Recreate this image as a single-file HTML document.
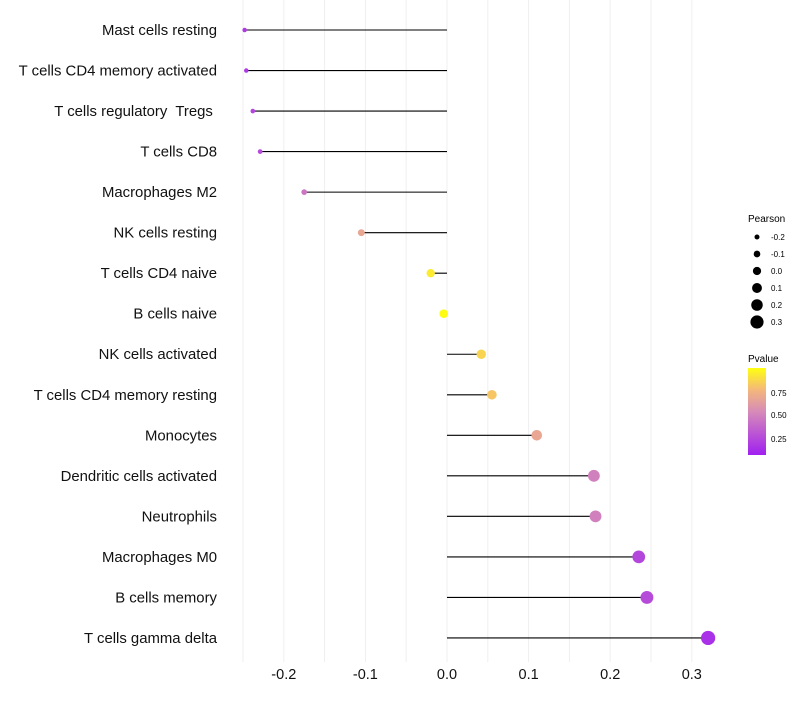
<!DOCTYPE html>
<html><head><meta charset="utf-8"><style>
body{margin:0;background:#fff;font-family:"Liberation Sans",sans-serif}
text{white-space:pre}
</style></head><body>
<svg id="chart" width="800" height="700" xmlns="http://www.w3.org/2000/svg" font-family="Liberation Sans, sans-serif">
<defs><linearGradient id="pg" x1="0" y1="1" x2="0" y2="0">
<stop offset="0" stop-color="#a020f0"/><stop offset="0.5" stop-color="#d68bb8"/><stop offset="0.75" stop-color="#f4b87a"/><stop offset="1" stop-color="#ffff10"/></linearGradient></defs>
<g id="grid"></g><g id="marks"></g><g id="labels"></g>
<g id="sizeleg"><text x="748" y="222" font-size="10">Pearson</text></g>
<g>
<text x="748" y="362" font-size="10">Pvalue</text>
<rect x="748" y="368" width="18" height="87" fill="url(#pg)"/>
<text x="771" y="396" font-size="8">0.75</text><text x="771" y="418" font-size="8">0.50</text><text x="771" y="442" font-size="8">0.25</text>
</g>
</svg>
<script>
const categories=["Mast cells resting","T cells CD4 memory activated","T cells regulatory  Tregs ","T cells CD8","Macrophages M2","NK cells resting","T cells CD4 naive","B cells naive","NK cells activated","T cells CD4 memory resting","Monocytes","Dendritic cells activated","Neutrophils","Macrophages M0","B cells memory","T cells gamma delta"];
const pearson=[-0.248,-0.246,-0.238,-0.229,-0.175,-0.105,-0.02,-0.004,0.042,0.055,0.11,0.18,0.182,0.235,0.245,0.32];
const pvalues=[0.12,0.12,0.18,0.2,0.4,0.65,0.93,0.99,0.85,0.8,0.65,0.45,0.45,0.18,0.2,0.08];
const xTicks=[-0.2,-0.1,0.0,0.1,0.2,0.3];
const sizeTicks=[-0.2,-0.1,0.0,0.1,0.2,0.3];
const NS="http://www.w3.org/2000/svg";
const x=v=>447+v*816;
const y=i=>30+i*40.53;
const r=v=>2.2+(v+0.25)*8.6;
function lerp(a,b,t){return a.map((c,k)=>Math.round(c+(b[k]-c)*t));}
function col(p){const st=[[0,[160,32,240]],[0.5,[214,139,184]],[0.75,[244,184,122]],[1,[255,255,16]]];
for(let k=1;k<st.length;k++){if(p<=st[k][0]){const t=(p-st[k-1][0])/(st[k][0]-st[k-1][0]);return 'rgb('+lerp(st[k-1][1],st[k][1],t).join(',')+')';}}return 'rgb(255,255,16)';}
function mk(t,a,p){const e=document.createElementNS(NS,t);for(const k in a)e.setAttribute(k,a[k]);p.appendChild(e);return e;}
const grid=document.getElementById('grid'),marks=document.getElementById('marks'),labels=document.getElementById('labels');
for(let v=-0.25;v<=0.325;v+=0.05){const g=mk('line',{x1:x(v),x2:x(v),y1:0,y2:662,stroke:'#efefef','stroke-width':1},grid);

}
xTicks.forEach(v=>{const t=mk('text',{x:x(v),y:679,'font-size':14.5,'text-anchor':'middle',fill:'#111'},labels);t.textContent=v.toFixed(1);

});
categories.forEach((c,i)=>{
const t=mk('text',{x:217,y:y(i)+5,'font-size':14.9,'text-anchor':'end',fill:'#111'},labels);t.textContent=c;


const l=mk('line',{x1:x(0),x2:x(pearson[i]),y1:y(i),y2:y(i),stroke:'#000','stroke-width':1.1},marks);


const d=mk('circle',{cx:x(pearson[i]),cy:y(i),r:r(pearson[i]),fill:col(pvalues[i])},marks);


});
const sl=document.getElementById('sizeleg');
sizeTicks.forEach((v,i)=>{const cy=237+i*17;
const c=mk('circle',{cx:757,cy:cy,r:r(v)*0.95,fill:'#000'},sl);


const t=mk('text',{x:771,y:cy+3,'font-size':8},sl);t.textContent=v.toFixed(1);

});
</script>
</body></html>
